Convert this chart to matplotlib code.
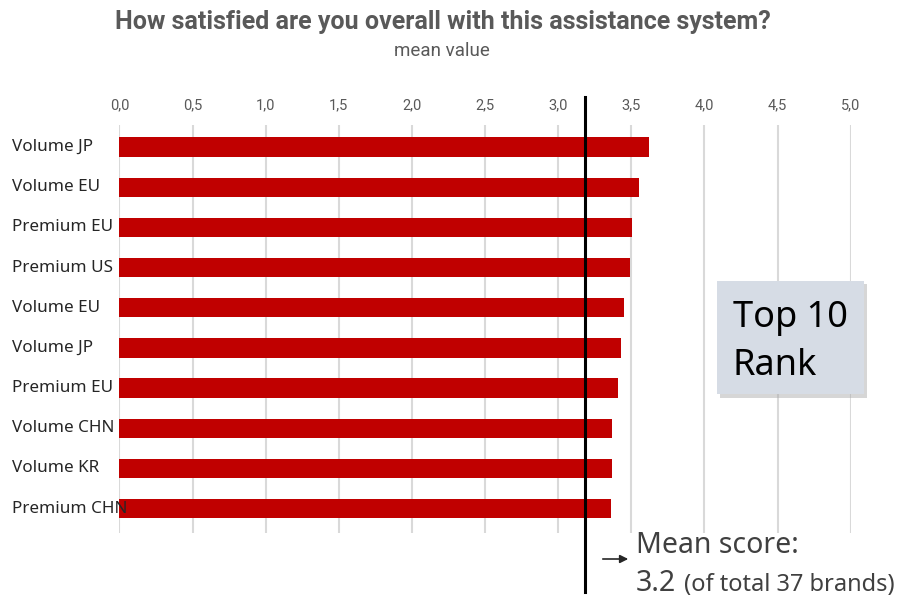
import matplotlib.pyplot as plt
from matplotlib.patches import Rectangle
from matplotlib.transforms import blended_transform_factory

brands = ['Volume JP', 'Volume EU', 'Premium EU', 'Premium US', 'Volume EU',
          'Volume JP', 'Premium EU', 'Volume CHN', 'Volume KR', 'Premium CHN']
scores = [3.62, 3.55, 3.505, 3.49, 3.45, 3.43, 3.41, 3.37, 3.37, 3.36]
mean_score = 3.18
x_ticks = [0.0, 0.5, 1.0, 1.5, 2.0, 2.5, 3.0, 3.5, 4.0, 4.5, 5.0]

W, H = 903, 597
narrow = ['Roboto', 'DejaVu Sans']
body = ['Noto Sans', 'DejaVu Sans']
gray = '#595959'


def fx(px):
    return px / W


def fy(py):
    return 1 - py / H


fig = plt.figure(figsize=(W / 100, H / 100), dpi=100)
ax = fig.add_axes([fx(119.5), fy(533), fx(850.7) - fx(119.5), (533 - 125) / H])

ypos = list(range(len(brands)))
ax.barh(ypos, scores, height=0.48, color='#c00000', zorder=2)
ax.set_xlim(0, 5)
ax.set_ylim(9.61, -0.55)

ax.xaxis.tick_top()
ax.set_xticks(x_ticks)
ax.set_xticklabels([f'{t:.1f}'.replace('.', ',') for t in x_ticks],
                   family=narrow, fontsize=10.5, color=gray)
ax.tick_params(axis='x', length=0, pad=9)
ax.grid(axis='x', color='#d9d9d9', linewidth=1.5, zorder=0)
ax.set_yticks([])
for s in ax.spines.values():
    s.set_visible(False)

# brand labels, left aligned
trans = blended_transform_factory(fig.transFigure, ax.transData)
for y, name in zip(ypos, brands):
    ax.text(fx(12), y, name, transform=trans, ha='left', va='center',
            family=body, fontsize=12.3, color='#262626', zorder=5)

# mean line running past the plot area
ax.axvline(mean_score, ymin=-0.145, ymax=1.069, color='black', linewidth=2.2,
           clip_on=False, zorder=4)

fig.text(fx(443), fy(22), 'How satisfied are you overall with this assistance system?',
         ha='center', va='center', family=narrow, fontweight='bold', fontsize=18, color=gray)
fig.text(fx(442), fy(51), 'mean value', ha='center', va='center',
         family=narrow, fontsize=13.5, color=gray)

# Top 10 box with shadow
bw, bh = fx(864) - fx(716.7), (394.3 - 281) / H
fig.patches.append(Rectangle((fx(720), fy(397.5)), bw, bh, transform=fig.transFigure,
                             facecolor='#a6a6a6', edgecolor='none', alpha=0.45, zorder=1))
fig.patches.append(Rectangle((fx(716.7), fy(394.3)), bw, bh, transform=fig.transFigure,
                             facecolor='#d6dce5', edgecolor='none', zorder=2))
fig.text(fx(733), fy(327), 'Top 10', ha='left', va='baseline', family=body,
         fontsize=26, color='black', zorder=3)
fig.text(fx(733), fy(375), 'Rank', ha='left', va='baseline', family=body,
         fontsize=26, color='black', zorder=3)

# mean annotation
ax.annotate('', xy=(fx(631), fy(559)), xytext=(fx(600), fy(559)),
            xycoords='figure fraction', textcoords='figure fraction',
            arrowprops=dict(arrowstyle='-|>', color='#262626', lw=1.2, mutation_scale=12))
fig.text(fx(636), fy(553), 'Mean score:', ha='left', va='baseline', family=body,
         fontsize=20.5, color='#404040')
fig.text(fx(636), fy(591), '3.2', ha='left', va='baseline', family=body,
         fontsize=20.5, color='#404040')
fig.text(fx(684), fy(591), '(of total 37 brands)', ha='left', va='baseline', family=body,
         fontsize=17, color='#404040')

fig.savefig('out.png', dpi=100)
